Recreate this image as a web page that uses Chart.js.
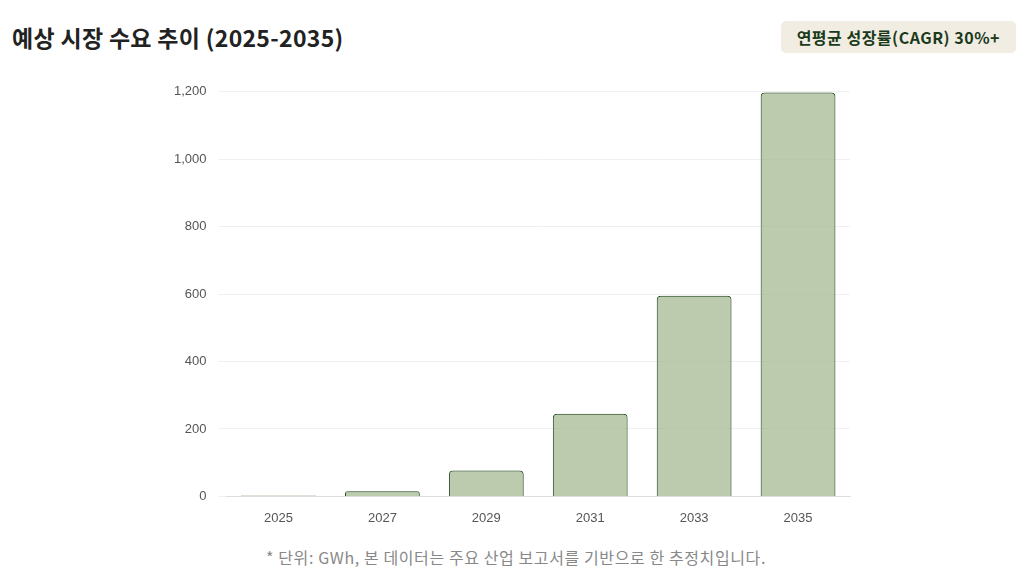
<!DOCTYPE html>
<html><head><meta charset="utf-8">
<script src="https://cdn.jsdelivr.net/npm/chart.js@4/dist/chart.umd.min.js"></script>
<style>
body{margin:0;width:1032px;height:582px;background:#fff;font-family:"Noto Sans CJK KR","Noto Sans",sans-serif;position:relative;overflow:hidden}
h1{position:absolute;left:12px;top:20px;margin:0;font-size:23px;font-weight:700;color:#222;letter-spacing:0.3px}
.badge{position:absolute;right:16px;top:21px;background:#f1ede3;color:#1b3a1b;font-weight:700;font-size:16px;padding:4px 16px;border-radius:5px;letter-spacing:0.5px}
#wrap{position:absolute;left:152px;top:72px;width:708px;height:460px}
.note{position:absolute;left:0;width:1032px;top:545px;text-align:center;color:#888;font-size:16px;letter-spacing:0.6px}
</style></head><body>
<h1>예상 시장 수요 추이 (2025-2035)</h1>
<div class="badge">연평균 성장률(CAGR) 30%+</div>
<div id="wrap"><canvas id="c"></canvas></div>
<div class="note">* 단위: GWh, 본 데이터는 주요 산업 보고서를 기반으로 한 추정치입니다.</div>
<script>
const years=["2025","2027","2029","2031","2033","2035"];
const demand=[3,15,77,245,595,1198];
new Chart(document.getElementById('c'),{type:'bar',
data:{labels:years,datasets:[{data:demand,backgroundColor:'rgba(160,180,140,0.7)',borderColor:'#1f4a1f',borderWidth:1,borderRadius:4,borderSkipped:'bottom'}]},
options:{responsive:true,maintainAspectRatio:false,animation:false,
layout:{padding:{left:10,right:10,top:10,bottom:0}},
plugins:{legend:{display:false},tooltip:{enabled:false}},
scales:{x:{grid:{display:false},border:{color:'#ddd'},ticks:{color:'#555',font:{size:13,family:'Arial'},padding:6}},
y:{min:0,max:1200,ticks:{stepSize:200,color:'#555',font:{size:13,family:'Arial'},padding:12},grid:{color:'#f0f0f0'},border:{display:false}}}}});
</script></body></html>
